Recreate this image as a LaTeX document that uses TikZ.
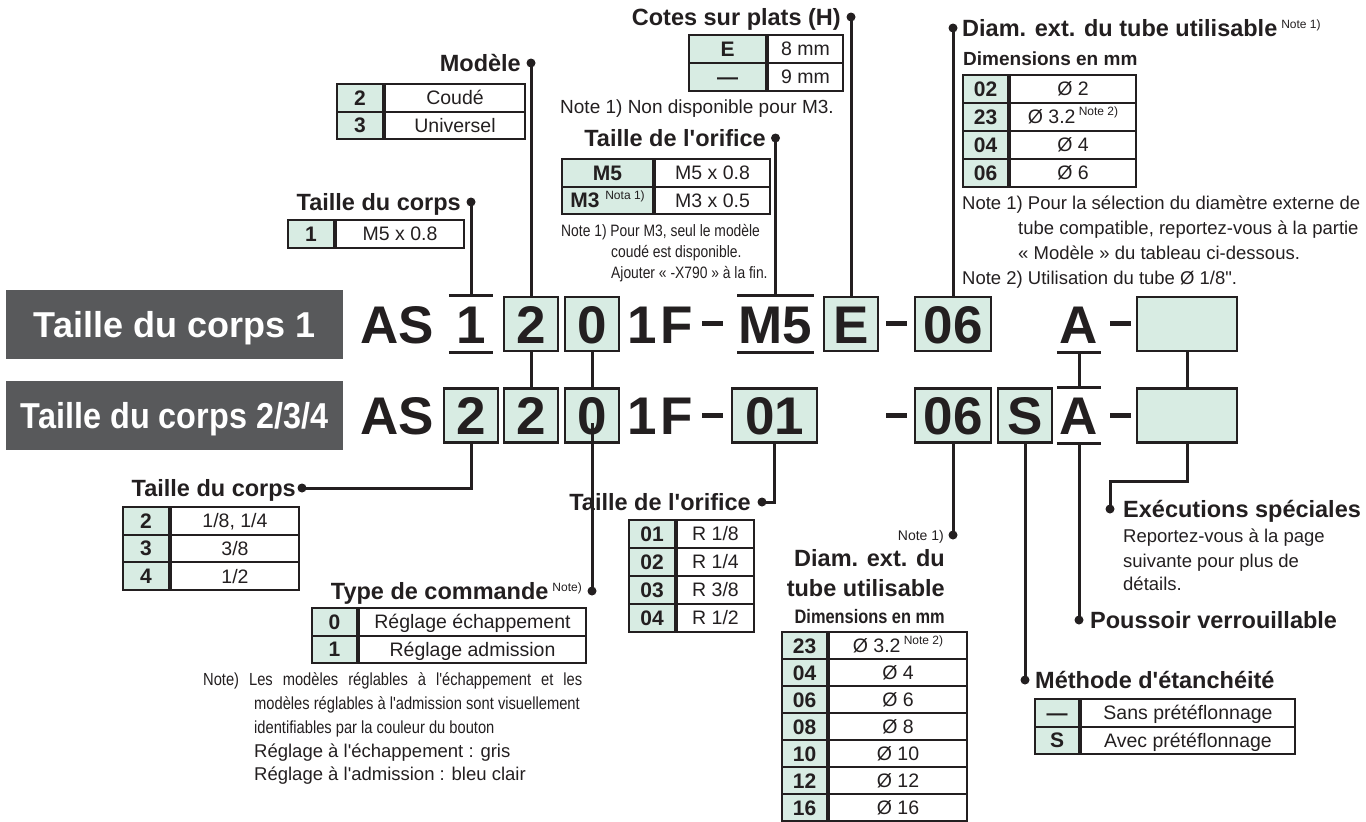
\documentclass[tikz,border=0pt]{standalone}
\usepackage{fontspec}
\setmainfont{Liberation Sans}[Ligatures=TeXOff]
\newfontfamily\condfont[FakeStretch=0.84,Ligatures=TeXOff]{Liberation Sans}
\newfontfamily\tagfont[FakeStretch=0.9,Ligatures=TeXOff]{Liberation Sans}
\definecolor{mint}{RGB}{216,236,227}
\definecolor{ink}{RGB}{35,31,32}
\definecolor{slate}{RGB}{88,89,91}
\tikzset{
  lead/.style={ink, line width=3pt},
  bar/.style={ink, line width=3pt},
  pin/.style={circle, fill=ink, inner sep=0pt, minimum size=9pt},
  head/.style={font=\fontsize{23.5}{27}\selectfont\bfseries, text=ink, inner sep=0pt},
  subhead/.style={font=\fontsize{19}{22}\selectfont\bfseries, text=ink, inner sep=0pt},
  note/.style={font=\fontsize{18.5}{22}\selectfont, text=ink, inner sep=0pt, anchor=base west},
  cnote/.style={font=\condfont\fontsize{17.5}{21}\selectfont, text=ink, inner sep=0pt, anchor=base west},
  keycell/.style={draw=ink, fill=mint, line width=2pt, minimum height=27.5pt, inner sep=0pt,
    text height=15pt, text depth=0pt, anchor=north west, font=\fontsize{21}{24}\selectfont\bfseries, text=ink},
  valcell/.style={draw=ink, line width=2pt, minimum height=27.5pt, inner sep=0pt,
    text height=14pt, text depth=0pt, anchor=north west, font=\fontsize{19.5}{22}\selectfont, text=ink},
  codebox/.style={draw=ink, fill=mint, line width=2.5pt, inner sep=0pt, minimum height=54pt,
    text height=38pt, text depth=0pt, font=\fontsize{53}{53}\selectfont\bfseries, text=ink},
  codetxt/.style={codebox, draw=none, fill=none},
  tagbox/.style={fill=slate, text=white, inner sep=0pt, minimum width=337pt, minimum height=69pt,
    text height=26pt, text depth=0pt}
}
\newcommand{\notesup}[1]{{\mdseries\fontsize{12}{12}\selectfont\raisebox{8pt}{#1}}}
\begin{document}
\begin{tikzpicture}[x=1pt, y={(0pt,-1pt)}]
  \useasboundingbox (0,0) rectangle (1366,822);
  % Row tags
  \node[tagbox, font=\fontsize{36}{36}\selectfont\bfseries] (tag1) at (174.5,324.5) {Taille du corps 1};
  \node[tagbox, font=\tagfont\fontsize{36}{36}\selectfont\bfseries] (tag2) at (174.5,415.5) {Taille du corps 2/3/4};
  % Code, body size 1
  \node[codetxt] (as1) at (397.5,324) {AS};
  \node[codetxt, minimum width=42pt] (b1) at (471,324) {1};
  \node[codebox, minimum width=54pt] (m1) at (531,324) {2};
  \node[codebox, minimum width=54pt] (k1) at (592,324) {0};
  \node[codetxt] (f1) at (660,324) {1\kern3pt F};
  \node[codetxt, minimum width=69pt] (p1) at (775.5,324) {M5};
  \node[codebox, minimum width=54pt] (h1) at (851,324) {E};
  \node[codebox, minimum width=76pt] (t1) at (953,324) {06};
  \node[codetxt, minimum width=42pt] (l1) at (1079,324) {A};
  \node[codebox, minimum width=100pt] (x1) at (1187,324) {};
  \fill[ink] (702,321) rectangle (723,325.5);
  \fill[ink] (886,321) rectangle (907,325.5);
  \fill[ink] (1110,321) rectangle (1131,325.5);
  \draw[bar] (b1.north west) -- (b1.north east) (b1.south west) -- (b1.south east);
  \draw[bar] (p1.north west) -- (p1.north east) (p1.south west) -- (p1.south east);
  \draw[bar] (l1.south west) -- (l1.south east);
  % Code, body size 2/3/4
  \node[codetxt] (as2) at (397.5,415.5) {AS};
  \node[codebox, minimum width=54pt] (b2) at (471,415.5) {2};
  \node[codebox, minimum width=54pt] (m2) at (531,415.5) {2};
  \node[codebox, minimum width=54pt] (k2) at (592,415.5) {0};
  \node[codetxt] (f2) at (660,415.5) {1\kern3pt F};
  \node[codebox, minimum width=85pt] (p2) at (774.5,415.5) {01};
  \node[codebox, minimum width=76pt] (t2) at (953,415.5) {06};
  \node[codebox, minimum width=54pt] (s2) at (1025,415.5) {S};
  \node[codetxt, minimum width=42pt] (l2) at (1079,415.5) {A};
  \node[codebox, minimum width=100pt] (x2) at (1187,415.5) {};
  \fill[ink] (702,413) rectangle (723,417.5);
  \fill[ink] (886,413) rectangle (907,417.5);
  \fill[ink] (1110,413) rectangle (1131,417.5);
  \draw[bar] (l2.north west) -- (l2.north east) (l2.south west) -- (l2.south east);
  % Links between the two rows
  \draw[lead] (m1.south) -- (m2.north);
  \draw[lead] (k1.south) -- (k2.north);
  \draw[lead] (l1.south) -- (l2.north);
  \draw[lead] (x1.south) -- (x2.north);

  % Taille du corps (top)
  \node[pin] (dTc1) at (471,202) {};
  \node[head, anchor=base east] (lTc1) at (461,210) {Taille du corps};
  \foreach \k/\v [count=\i from 0] in {1/M5 x 0.8}{
    \node[keycell, minimum width=46pt] (tck\i) at (287,{219+27.5*\i}) {\k};
    \node[valcell, minimum width=128pt] (tcv\i) at (tck\i.north east) {\v};
  }
  \draw[lead] (b1.north) -- (dTc1.center);
  % Modele
  \node[pin] (dMod) at (531,63) {};
  \node[head, anchor=base east] (lMod) at (521,71) {Modèle};
  \foreach \k/\v [count=\i from 0] in {2/Coudé, 3/Universel}{
    \node[keycell, minimum width=46pt] (mk\i) at (336,{83+27.5*\i}) {\k};
    \node[valcell, minimum width=140pt] (mv\i) at (mk\i.north east) {\v};
  }
  \draw[lead] (m1.north) -- (dMod.center);
  % Taille de l'orifice (top)
  \node[pin] (dOr1) at (775.5,138) {};
  \node[head, anchor=base east] (lOr1) at (766,146) {Taille de l'orifice};
  \foreach \k/\v [count=\i from 0] in {M5/M5 x 0.8, {M3 \notesup{Nota 1)}}/M3 x 0.5}{
    \node[keycell, minimum width=91pt] (ok\i) at (561,{158+27.5*\i}) {\k};
    \node[valcell, minimum width=115pt] (ov\i) at (ok\i.north east) {\v};
  }
  \node[cnote, font=\condfont\fontsize{16.5}{20}\selectfont] (nOr1) at (561,236) {Note 1) Pour M3, seul le modèle};
  \node[cnote, font=\condfont\fontsize{16.5}{20}\selectfont] (nOr2) at (611,257) {coudé est disponible.};
  \node[cnote, font=\condfont\fontsize{16.5}{20}\selectfont] (nOr3) at (611,278) {Ajouter « -X790 » à la fin.};
  \draw[lead] (p1.north) -- (dOr1.center);
  % Cotes sur plats
  \node[pin] (dCot) at (851,17) {};
  \node[head, anchor=base east] (lCot) at (841,25) {Cotes sur plats (H)};
  \foreach \k/\v [count=\i from 0] in {E/8 mm, —/9 mm}{
    \node[keycell, minimum width=77pt] (hk\i) at (688,{34+28*\i}) {\k};
    \node[valcell, minimum width=75pt] (hv\i) at (hk\i.north east) {\v};
  }
  \node[note, font=\fontsize{19}{22}\selectfont] (nCot) at (560,113) {Note 1) Non disponible pour M3.};
  \draw[lead] (h1.north) -- (dCot.center);
  % Diametre du tube (top)
  \node[pin] (dDia1) at (953,28) {};
  \node[head, anchor=base west] (lDia1) at (962,36) {Diam. ext. du tube utilisable\,\notesup{Note 1)}};
  \node[subhead, anchor=base west] (lDim1) at (963,65) {Dimensions en mm};
  \foreach \k/\v [count=\i from 0] in {02/Ø 2, 23/{Ø 3.2\,\notesup{Note 2)}}, 04/Ø 4, 06/Ø 6}{
    \node[keycell, minimum width=45pt] (dk\i) at (962,{74+28*\i}) {\k};
    \node[valcell, minimum width=126pt] (dv\i) at (dk\i.north east) {\v};
  }
  \node[note] (nDia1) at (962,209) {Note 1) Pour la sélection du diamètre externe de};
  \node[note] (nDia2) at (1018,234) {tube compatible, reportez-vous à la partie};
  \node[note] (nDia3) at (1018,259) {« Modèle » du tableau ci-dessous.};
  \node[note] (nDia4) at (962,284) {Note 2) Utilisation du tube Ø 1/8".};
  \draw[lead] (t1.north) -- (dDia1.center);

  % Taille du corps (bottom)
  \node[pin] (dTc2) at (302,488) {};
  \node[head, anchor=base east] (lTc2) at (296,496) {Taille du corps};
  \foreach \k/\v [count=\i from 0] in {2/{1/8, 1/4}, 3/{3/8}, 4/{1/2}}{
    \node[keycell, minimum width=46pt] (bk\i) at (122,{506+27.7*\i}) {\k};
    \node[valcell, minimum width=128pt] (bv\i) at (bk\i.north east) {\v};
  }
  \draw[lead] (b2.south) |- (dTc2.center);
  % Type de commande
  \node[pin] (dCmd) at (592,591) {};
  \node[head, anchor=base east] (lCmd) at (582,599) {Type de commande\,\notesup{Note)}};
  \foreach \k/\v [count=\i from 0] in {0/Réglage échappement, 1/Réglage admission}{
    \node[keycell, minimum width=45pt] (ck\i) at (311,{607+27.5*\i}) {\k};
    \node[valcell, minimum width=227pt] (cv\i) at (ck\i.north east) {\v};
  }
  \node[cnote] (nCmd1) at (203,685) {\makebox[379pt][s]{Note) Les modèles réglables à l'échappement et les}};
  \node[cnote] (nCmd2) at (254,709) {modèles réglables à l'admission sont visuellement};
  \node[cnote] (nCmd3) at (254,733) {identifiables par la couleur du bouton};
  \node[note] (nCmd4) at (254,757) {Réglage à l'échappement : gris};
  \node[note] (nCmd5) at (254,780) {Réglage à l'admission : bleu clair};
  \draw[lead] ([yshift=-7.5pt]k2.center) -- (dCmd.center);
  % Taille de l'orifice (bottom)
  \node[pin] (dOr2) at (762,502) {};
  \node[head, anchor=base east] (lOr2) at (751,510) {Taille de l'orifice};
  \foreach \k/\v [count=\i from 0] in {01/{R 1/8}, 02/{R 1/4}, 03/{R 3/8}, 04/{R 1/2}}{
    \node[keycell, minimum width=46pt] (rk\i) at (628,{519+28*\i}) {\k};
    \node[valcell, minimum width=77pt] (rv\i) at (rk\i.north east) {\v};
  }
  \draw[lead] (p2.south) |- (dOr2.center);
  % Diametre du tube (bottom)
  \node[pin] (dDia2) at (953,535) {};
  \node[inner sep=0pt, anchor=base east, font=\fontsize{14}{14}\selectfont, text=ink] (lNt2) at (944,540) {Note 1)};
  \node[head, anchor=base east] (lDia2a) at (945,566) {Diam. ext. du};
  \node[head, anchor=base east] (lDia2b) at (945,596) {tube utilisable};
  \node[subhead, anchor=base east, font=\condfont\fontsize{19.5}{22}\selectfont\bfseries] (lDim2) at (945,623) {Dimensions en mm};
  \foreach \k/\v [count=\i from 0] in {23/{Ø 3.2\,\notesup{Note 2)}}, 04/Ø 4, 06/Ø 6, 08/Ø 8, 10/Ø 10, 12/Ø 12, 16/Ø 16}{
    \node[keycell, minimum width=45pt, minimum height=27pt] (ek\i) at (781,{631+27*\i}) {\k};
    \node[valcell, minimum width=138pt, minimum height=27pt] (ev\i) at (ek\i.north east) {\v};
  }
  \draw[lead] (t2.south) -- (dDia2.center);
  % Methode d'etancheite
  \node[pin] (dEt) at (1025,680) {};
  \node[head, anchor=base west] (lEt) at (1035,688) {Méthode d'étanchéité};
  \foreach \k/\v [count=\i from 0] in {—/Sans prétéflonnage, S/Avec prétéflonnage}{
    \node[keycell, minimum width=44pt] (sk\i) at (1034,{698+27.5*\i}) {\k};
    \node[valcell, minimum width=214pt] (sv\i) at (sk\i.north east) {\v};
  }
  \draw[lead] (s2.south) -- (dEt.center);
  % Poussoir verrouillable
  \node[pin] (dPo) at (1079,620) {};
  \node[head, anchor=base west] (lPo) at (1090,628) {Poussoir verrouillable};
  \draw[lead] (l2.south) -- (dPo.center);
  % Executions speciales
  \node[pin] (dEx) at (1110,509) {};
  \node[head, anchor=base west] (lEx) at (1123,517) {Exécutions spéciales};
  \node[note] (nEx1) at (1123,542) {Reportez-vous à la page};
  \node[note] (nEx2) at (1123,567) {suivante pour plus de};
  \node[note] (nEx3) at (1123,590) {détails.};
  \draw[lead] (x2.south) -- ++(0,38) -| (dEx.center);
\end{tikzpicture}
\end{document}
